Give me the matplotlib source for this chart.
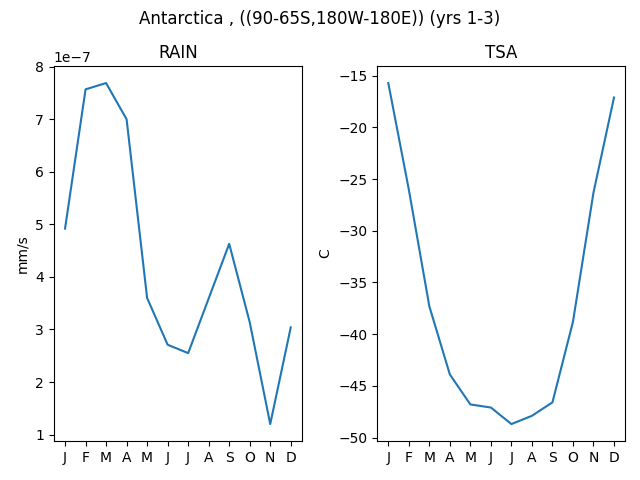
import numpy as np
import matplotlib
matplotlib.use("Agg")
import matplotlib.pyplot as plt

months = ['J', 'F', 'M', 'A', 'M', 'J', 'J', 'A', 'S', 'O', 'N', 'D']

# monthly climatology
rain = [4.92e-7, 7.57e-7, 7.69e-7, 7.00e-7, 3.60e-7, 2.71e-7,
        2.55e-7, 3.59e-7, 4.63e-7, 3.14e-7, 1.20e-7, 3.04e-7]
tsa = [-15.7, -26.0, -37.3, -43.9, -46.8, -47.1,
       -48.7, -47.9, -46.6, -38.8, -26.3, -17.1]

fig, (ax1, ax2) = plt.subplots(1, 2, figsize=(6.4, 4.8))
fig.suptitle('Antarctica , ((90-65S,180W-180E)) (yrs 1-3)')

x = np.arange(len(months))

ax1.plot(x, rain)
ax1.set_title('RAIN')
ax1.set_ylabel('mm/s')
ax1.set_xticks(x)
ax1.set_xticklabels(months)

ax2.plot(x, tsa)
ax2.set_title('TSA')
ax2.set_ylabel('C')
ax2.set_xticks(x)
ax2.set_xticklabels(months)

fig.subplots_adjust(left=0.084, right=0.977, bottom=0.081, top=0.8625, wspace=0.302)
fig.savefig('out.png', dpi=100)
